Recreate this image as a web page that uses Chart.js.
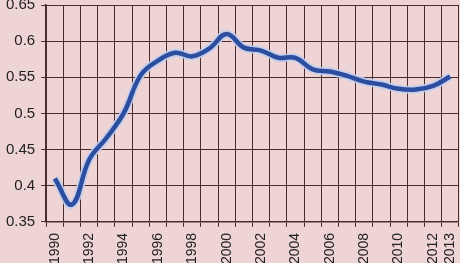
<!DOCTYPE html>
<html>
<head>
<meta charset="utf-8">
<script src="https://cdn.jsdelivr.net/npm/chart.js@4/dist/chart.umd.min.js"></script>
<style>
  html, body { margin: 0; padding: 0; background: #efd4d5; overflow: hidden; }
  #outer { width: 460px; height: 263px; overflow: hidden; position: relative; }
  #wrap { position: absolute; left: 0; top: -10px; width: 473px; height: 280px; }
</style>
</head>
<body>
<div id="outer"><div id="wrap"><canvas id="chart"></canvas></div></div>
<script>
// années et valeurs
const years = ['1990', '1991', '1992', '1993', '1994', '1995', '1996', '1997', '1998', '1999', '2000', '2001',
    '2002', '2003', '2004', '2005', '2006', '2007', '2008', '2009', '2010', '2011', '2012', '2013'];
const shownYears = ['1990', '1992', '1994', '1996', '1998', '2000', '2002', '2004', '2006', '2008', '2010', '2012', '2013'];
const values = [0.410, 0.374, 0.436, 0.466, 0.500, 0.553, 0.573, 0.584, 0.579, 0.590, 0.610, 0.591,
    0.587, 0.577, 0.577, 0.561, 0.558, 0.552, 0.544, 0.540, 0.534, 0.533, 0.538, 0.551];
const yTicks = [0.35, 0.4, 0.45, 0.5, 0.55, 0.6, 0.65];

const gridColor = '#4a2c2c';

new Chart(document.getElementById('chart').getContext('2d'), {
    type: 'line',
    data: {
        labels: years,
        datasets: [{
            data: values,
            borderColor: '#2d4d9e',
            borderWidth: 4.5,
            tension: 0.4,
            pointRadius: 0,
            fill: false
        }, {
            // halo clair autour de la courbe
            data: values,
            borderColor: 'rgba(190, 205, 240, 0.9)',
            borderWidth: 8,
            tension: 0.4,
            pointRadius: 0,
            fill: false
        }]
    },
    options: {
        responsive: true,
        maintainAspectRatio: false,
        animation: false,
        layout: { padding: 0 },
        plugins: { legend: { display: false }, tooltip: { enabled: false } },
        scales: {
            x: {
                offset: true,
                grid: { offset: true, color: gridColor, lineWidth: 1, tickLength: 5, drawTicks: true },
                border: { color: gridColor, width: 1.5 },
                ticks: {
                    autoSkip: false,
                    minRotation: 90,
                    maxRotation: 90,
                    padding: 6,
                    color: '#222',
                    font: { family: 'Liberation Sans', size: 14 },
                    callback: function (v) {
                        const label = this.getLabelForValue(v);
                        return shownYears.includes(label) ? label : '';
                    }
                }
            },
            y: {
                min: 0.35,
                max: 0.65,
                afterBuildTicks: axis => { axis.ticks = yTicks.map(v => ({ value: v })); },
                grid: { color: gridColor, lineWidth: 1, tickLength: 5 },
                border: { color: gridColor, width: 1.5 },
                ticks: {
                    padding: 6,
                    color: '#222',
                    font: { family: 'Liberation Sans', size: 15 },
                    callback: v => String(+v.toFixed(2))
                }
            }
        }
    }
});
</script>
</body>
</html>
